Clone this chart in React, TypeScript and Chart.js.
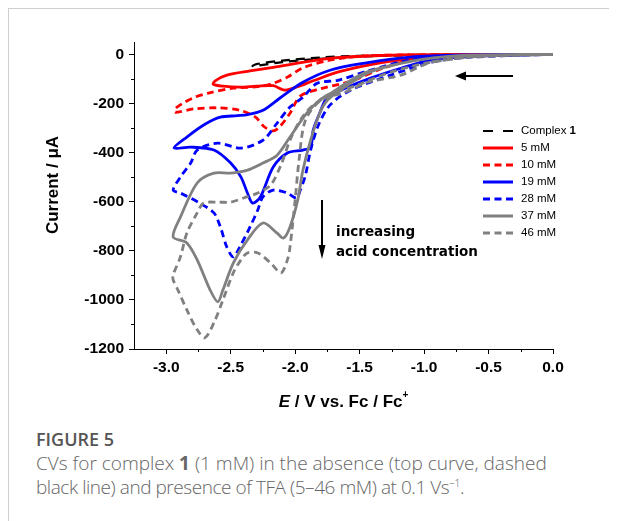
import React, { useEffect, useRef } from "react";
import { Chart, registerables } from "chart.js";

Chart.register(...registerables);

// Potential (V vs Fc/Fc+) and current (µA) pairs, forward scan then return scan
const complex1: [number, number][] = [
  [0, 0], [-0.5, -1], [-1.0, -3], [-1.3, -6], [-1.6, -12], [-1.9, -22], [-2.1, -32], [-2.33, -48],
  [-2.3, -40], [-2.1, -26], [-1.8, -13], [-1.5, -6], [-1.0, -2], [0, 0],
];
const tfa5: [number, number][] = [
  [0, 0], [-0.5, -3], [-0.8, -8], [-1.05, -16], [-1.34, -35], [-1.65, -70], [-1.86, -108], [-1.98, -132],
  [-2.08, -146], [-2.17, -128], [-2.3, -130], [-2.43, -134], [-2.56, -130], [-2.635, -122],
  [-2.62, -108], [-2.53, -85], [-2.35, -68], [-2.17, -53], [-1.83, -24], [-1.65, -13], [-1.34, -5], [-0.95, -1], [0, 0],
];
const tfa10: [number, number][] = [
  [0, 0], [-0.5, -3], [-0.8, -8], [-1.05, -16], [-1.32, -57], [-1.57, -110], [-1.8, -140], [-1.96, -170],
  [-2.04, -240], [-2.12, -295], [-2.17, -312], [-2.24, -295], [-2.31, -255], [-2.43, -228], [-2.6, -218],
  [-2.78, -222], [-2.93, -236], [-2.93, -222], [-2.87, -199], [-2.78, -175], [-2.68, -159], [-2.48, -138],
  [-2.29, -132], [-2.17, -118], [-2.06, -93], [-1.94, -55], [-1.75, -26], [-1.5, -8], [-1.2, -3], [0, 0],
];
const tfa19: [number, number][] = [
  [0, 0], [-0.64, -8], [-0.95, -24], [-1.18, -57], [-1.42, -98], [-1.61, -138], [-1.75, -175], [-1.81, -240],
  [-1.86, -309], [-1.88, -378], [-1.94, -390], [-2.06, -402], [-2.17, -459], [-2.27, -581], [-2.33, -606],
  [-2.37, -565], [-2.42, -500], [-2.5, -443], [-2.63, -390], [-2.81, -378], [-2.94, -382],
  [-2.84, -337], [-2.7, -285], [-2.58, -256], [-2.45, -250], [-2.37, -246], [-2.25, -228], [-2.12, -179],
  [-1.94, -114], [-1.73, -65], [-1.47, -37], [-1.11, -12], [-0.7, -3], [0, 0],
];
const tfa28: [number, number][] = [
  [0, 0], [-0.64, -12], [-0.95, -33], [-1.26, -85], [-1.57, -146], [-1.73, -207], [-1.82, -289], [-1.88, -390],
  [-1.92, -492], [-1.96, -553], [-1.99, -585], [-2.06, -565], [-2.17, -553], [-2.25, -581], [-2.29, -634],
  [-2.35, -703], [-2.43, -785], [-2.48, -825], [-2.53, -785], [-2.58, -703], [-2.63, -646], [-2.74, -606],
  [-2.89, -565], [-2.946, -553],
  [-2.89, -500], [-2.81, -443], [-2.76, -390], [-2.6, -362], [-2.42, -382], [-2.25, -350], [-2.14, -280],
  [-2.04, -215], [-1.94, -175], [-1.83, -118], [-1.67, -106], [-1.42, -65], [-1.11, -24], [-0.72, -8], [0, 0],
];
const tfa37: [number, number][] = [
  [0, 0], [-0.66, -4], [-0.87, -12], [-1.18, -37], [-1.44, -77], [-1.65, -146], [-1.75, -187], [-1.81, -240],
  [-1.88, -350], [-1.94, -472], [-1.98, -593], [-2.04, -703], [-2.09, -748], [-2.14, -728], [-2.25, -687],
  [-2.37, -756], [-2.48, -850], [-2.56, -959], [-2.6, -1008], [-2.66, -959], [-2.76, -837], [-2.84, -768],
  [-2.946, -744],
  [-2.89, -663], [-2.76, -524], [-2.63, -484], [-2.5, -484], [-2.37, -472], [-2.25, -443], [-2.14, -411],
  [-2.04, -337], [-1.91, -240], [-1.81, -187], [-1.71, -154], [-1.47, -77], [-1.18, -37], [-0.87, -12], [0, 0],
];
const tfa46: [number, number][] = [
  [0, 0], [-0.64, -12], [-0.95, -33], [-1.18, -85], [-1.44, -114], [-1.61, -154], [-1.8, -187], [-1.92, -268],
  [-1.97, -431], [-2.0, -593], [-2.04, -785], [-2.06, -837], [-2.11, -890], [-2.19, -850], [-2.29, -809],
  [-2.37, -809], [-2.42, -837], [-2.48, -890], [-2.56, -1000], [-2.63, -1093], [-2.7, -1154], [-2.76, -1122],
  [-2.84, -1041], [-2.91, -959], [-2.946, -919],
  [-2.946, -898], [-2.89, -825], [-2.84, -728], [-2.76, -646], [-2.71, -606], [-2.6, -602], [-2.5, -602],
  [-2.4, -585], [-2.29, -565], [-2.19, -532], [-2.11, -451], [-2.04, -350], [-1.96, -268], [-1.86, -207],
  [-1.7, -159], [-1.52, -126], [-1.26, -73], [-0.95, -33], [-0.56, -8], [0, 0],
];

const seriesLabels = ["Complex 1", "5 mM", "10 mM", "19 mM", "28 mM", "37 mM", "46 mM"];
const seriesData = [complex1, tfa5, tfa10, tfa19, tfa28, tfa37, tfa46];
const seriesColors = ["#000000", "#ff0000", "#ff0000", "#0000ff", "#0000ff", "#808080", "#808080"];
const seriesDashed = [true, false, true, false, true, false, true];

const xMin = -3.25;
const xMax = 0;
const yMin = -1200;
const yMax = 50;

const ARIAL = '"Liberation Sans", Arial, sans-serif';
const DEJAVU = '"DejaVu Sans", sans-serif';

const overlayPlugin = {
  id: "overlay",
  afterDraw(chart: any) {
    const ctx: CanvasRenderingContext2D = chart.ctx;
    const xs = chart.scales.x;
    const ys = chart.scales.y;
    ctx.save();
    // minor ticks
    ctx.strokeStyle = "#000";
    ctx.lineWidth = 1;
    ctx.setLineDash([]);
    for (let v = -1100; v < 0; v += 200) {
      const py = Math.round(ys.getPixelForValue(v)) + 0.5;
      ctx.beginPath();
      ctx.moveTo(xs.left - 3, py);
      ctx.lineTo(xs.left, py);
      ctx.stroke();
    }
    for (let v = -2.75; v < 0; v += 0.5) {
      const px = Math.round(xs.getPixelForValue(v)) + 0.5;
      ctx.beginPath();
      ctx.moveTo(px, ys.bottom);
      ctx.lineTo(px, ys.bottom + 3);
      ctx.stroke();
    }

    // legend
    const lx0 = 474;
    const lx1 = 504;
    const ly0 = 122;
    const lstep = 17;
    seriesLabels.forEach((label, i) => {
      const y = ly0 + i * lstep;
      ctx.strokeStyle = seriesColors[i];
      ctx.lineWidth = i === 0 ? 2 : 3;
      ctx.setLineDash(seriesDashed[i] ? (i === 0 ? [10, 10] : [7, 4.5]) : []);
      ctx.beginPath();
      ctx.moveTo(lx0, y);
      ctx.lineTo(lx1, y);
      ctx.stroke();
      ctx.setLineDash([]);
      ctx.fillStyle = "#000";
      ctx.textBaseline = "middle";
      ctx.textAlign = "left";
      if (i === 0) {
        ctx.font = `11.5px ${ARIAL}`;
        const base = "Complex ";
        ctx.fillText(base, 512, y);
        const w = ctx.measureText(base).width;
        ctx.font = `bold 11.5px ${ARIAL}`;
        ctx.fillText("1", 512 + w, y);
      } else {
        ctx.font = `11.5px ${ARIAL}`;
        ctx.fillText(label, 512, y);
      }
    });

    // horizontal scan-direction arrow
    ctx.strokeStyle = "#000";
    ctx.fillStyle = "#000";
    ctx.lineWidth = 2;
    ctx.beginPath();
    ctx.moveTo(504, 67);
    ctx.lineTo(454, 67);
    ctx.stroke();
    ctx.beginPath();
    ctx.moveTo(446, 67);
    ctx.lineTo(457, 62.5);
    ctx.lineTo(457, 71.5);
    ctx.closePath();
    ctx.fill();

    // vertical arrow
    ctx.beginPath();
    ctx.moveTo(313, 191);
    ctx.lineTo(313, 240);
    ctx.stroke();
    ctx.beginPath();
    ctx.moveTo(313, 250);
    ctx.lineTo(309.5, 236);
    ctx.lineTo(316.5, 236);
    ctx.closePath();
    ctx.fill();

    ctx.font = `bold 13.5px ${DEJAVU}`;
    ctx.textAlign = "left";
    ctx.textBaseline = "middle";
    ctx.fillText("increasing", 327, 223);
    ctx.fillText("acid concentration", 327, 243);

    // y axis title
    ctx.save();
    ctx.translate(44, 176);
    ctx.rotate(-Math.PI / 2);
    ctx.font = `bold 17px ${ARIAL}`;
    ctx.textAlign = "center";
    ctx.textBaseline = "middle";
    ctx.fillText("Current / \u03bcA", 0, 0);
    ctx.restore();

    // x axis title: E / V vs. Fc / Fc+
    const cx = (xs.left + xs.right) / 2;
    const ty = 393;
    const fItalic = `italic bold 17px ${ARIAL}`;
    const fBold = `bold 17px ${ARIAL}`;
    const fSup = `bold 10px ${ARIAL}`;
    ctx.font = fItalic;
    const wE = ctx.measureText("E").width;
    ctx.font = fBold;
    const rest = " / V vs. Fc / Fc";
    const wR = ctx.measureText(rest).width;
    ctx.font = fSup;
    const wS = ctx.measureText("+").width;
    let sx = cx - (wE + wR + wS) / 2;
    ctx.textAlign = "left";
    ctx.textBaseline = "middle";
    ctx.font = fItalic;
    ctx.fillText("E", sx, ty);
    sx += wE;
    ctx.font = fBold;
    ctx.fillText(rest, sx, ty);
    sx += wR;
    ctx.font = fSup;
    ctx.fillText("+", sx, ty - 7);
    ctx.restore();
  },
};

export default function App() {
  const canvasRef = useRef<HTMLCanvasElement | null>(null);

  useEffect(() => {
    if (!canvasRef.current) return;
    const datasets = seriesData.map((d, i) => ({
      label: seriesLabels[i],
      data: d.map(([x, y]) => ({ x, y })),
      borderColor: seriesColors[i],
      backgroundColor: seriesColors[i],
      borderWidth: i === 0 ? 2.2 : 2.8,
      borderDash: seriesDashed[i] ? (i === 0 ? [9, 6] : [7, 4.5]) : [],
      pointRadius: 0,
      fill: false,
      tension: 0.3,
      order: seriesLabels.length - i,
    }));
    const chart = new Chart(canvasRef.current, {
      type: "line",
      data: { datasets },
      plugins: [overlayPlugin],
      options: {
        animation: false,
        responsive: false,
        devicePixelRatio: 1,
        layout: { padding: { top: 33, right: 64, left: 0, bottom: 0 } },
        plugins: { legend: { display: false }, tooltip: { enabled: false }, title: { display: false } },
        scales: {
          x: {
            type: "linear",
            min: xMin,
            max: xMax,
            afterFit: (s: any) => {
              s.height = 70;
            },
            ticks: {
              stepSize: 0.5,
              includeBounds: false,
              autoSkip: false,
              maxRotation: 0,
              padding: 4,
              color: "#000",
              font: { family: ARIAL, size: 15.5, weight: "bold" },
              callback: (v: any) => Number(v).toFixed(1),
            },
            grid: { drawOnChartArea: false, drawTicks: true, tickLength: 5, color: "#000", lineWidth: 1 },
            border: { display: true, color: "#000", width: 1 },
          },
          y: {
            type: "linear",
            min: yMin,
            max: yMax,
            afterFit: (s: any) => {
              s.width = 125;
            },
            ticks: {
              stepSize: 200,
              includeBounds: false,
              autoSkip: false,
              padding: 5,
              color: "#000",
              font: { family: ARIAL, size: 15.5, weight: "bold" },
              callback: (v: any) => String(v),
            },
            grid: { drawOnChartArea: false, drawTicks: true, tickLength: 5, color: "#000", lineWidth: 1 },
            border: { display: true, color: "#000", width: 1 },
          },
        },
      } as any,
    });
    return () => chart.destroy();
  }, []);

  return (
    <div
      style={{
        position: "relative",
        borderTop: "1px solid #cfcfcf",
        borderLeft: "1px solid #cfcfcf",
        height: 513,
        boxSizing: "border-box",
        overflow: "hidden",
      }}
    >
      <canvas ref={canvasRef} width={608} height={410} style={{ display: "block", width: 608, height: 410 }} />
      <div
        style={{
          position: "absolute",
          left: 27,
          top: 418,
          fontFamily: '"Open Sans", sans-serif',
          color: "#666",
          whiteSpace: "nowrap",
        }}
      >
        <div style={{ fontSize: 18, fontWeight: 600, color: "#555", lineHeight: "24px" }}>FIGURE 5</div>
        <div style={{ fontSize: 19, lineHeight: "24px", fontWeight: 300 }}>
          <div>
            CVs for complex <b style={{ fontWeight: 700 }}>1</b> (1 mM) in the absence (top curve, dashed
          </div>
          <div style={{ letterSpacing: "-0.45px" }}>
            black line) and presence of TFA (5–46 mM) at 0.1 Vs
            <sup style={{ fontSize: 11, lineHeight: 0 }}>–1</sup>.
          </div>
        </div>
      </div>
    </div>
  );
}
